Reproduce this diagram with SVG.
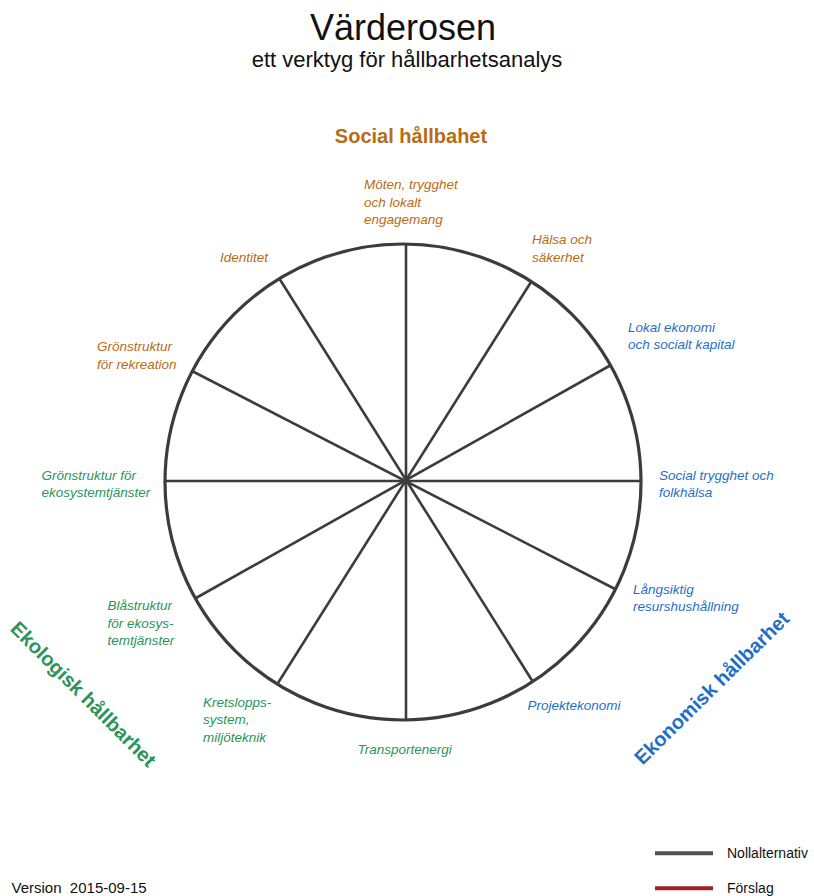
<svg xmlns="http://www.w3.org/2000/svg" width="814" height="896" viewBox="0 0 814 896">
<style>
text{font-family:"Liberation Sans",Arial,sans-serif}
.title{font-size:36px;fill:#111}
.sub{font-size:22px;fill:#111}
.head{font-size:20px;font-weight:bold}
.lab{font-size:13.5px;font-style:italic}
.soc{fill:#b86c16}
.eko{fill:#1f6fc6}
.eco{fill:#2a945a}
.spoke{stroke:#3c3c3f;stroke-width:2.6;fill:none}
.ring{stroke:#3c3c3f;stroke-width:3.2;fill:none}
.leg{font-size:14px;fill:#111}
</style>
<rect width="814" height="896" fill="#fff"/>
<g id="title">
<text class="title" x="403" y="40" text-anchor="middle">Värderosen</text>
<text class="sub" x="407" y="67" text-anchor="middle">ett verktyg för hållbarhetsanalys</text>
</g>
<g id="headings">
<text class="head soc" x="411" y="143" text-anchor="middle">Social hållbahet</text>
<text class="head eco" transform="translate(78.5,699) rotate(45)" text-anchor="middle">Ekologisk hållbarhet</text>
<text class="head eko" transform="translate(716.5,693) rotate(-44.5)" text-anchor="middle">Ekonomisk hållbarhet</text>
</g>
<g id="rose">
<circle class="ring" cx="403" cy="482" r="238"/>
</g>
<g id="connectors">
<line class="spoke" x1="406" y1="244" x2="406" y2="720"/>
<line class="spoke" x1="165" y1="481" x2="641" y2="481"/>
<line class="spoke" x1="531" y1="282" x2="278" y2="683"/>
<line class="spoke" x1="611" y1="365" x2="196" y2="598"/>
<line class="spoke" x1="279" y1="278" x2="533" y2="682"/>
<line class="spoke" x1="192" y1="371" x2="615" y2="589"/>
</g>
<g id="label-moten"><text class="lab soc" x="364" y="189">Möten, trygghet<tspan x="364" y="206.5">och lokalt</tspan><tspan x="364" y="224">engagemang</tspan></text></g>
<g id="label-halsa"><text class="lab soc" x="532" y="244">Hälsa och<tspan x="532" y="261.5">säkerhet</tspan></text></g>
<g id="label-lokal"><text class="lab eko" x="628" y="331.5">Lokal ekonomi<tspan x="628" y="349">och socialt kapital</tspan></text></g>
<g id="label-social"><text class="lab eko" x="659" y="479.5">Social trygghet och<tspan x="659" y="497">folkhälsa</tspan></text></g>
<g id="label-langsiktig"><text class="lab eko" x="633" y="593.5">Långsiktig<tspan x="633" y="611">resurshushållning</tspan></text></g>
<g id="label-projekt"><text class="lab eko" x="527.5" y="710">Projektekonomi</text></g>
<g id="label-transport"><text class="lab eco" x="357.5" y="754">Transportenergi</text></g>
<g id="label-krets"><text class="lab eco" x="203" y="706.5">Kretslopps-<tspan x="203" y="724">system,</tspan><tspan x="203" y="741.5">miljöteknik</tspan></text></g>
<g id="label-bla"><text class="lab eco" x="107.5" y="610">Blåstruktur<tspan x="107.5" y="627.5">för ekosys-</tspan><tspan x="107.5" y="645">temtjänster</tspan></text></g>
<g id="label-gron-eko"><text class="lab eco" x="41.5" y="479.5">Grönstruktur för<tspan x="41.5" y="497">ekosystemtjänster</tspan></text></g>
<g id="label-gron-rek"><text class="lab soc" x="97" y="351">Grönstruktur<tspan x="97" y="368.5">för rekreation</tspan></text></g>
<g id="label-identitet"><text class="lab soc" x="220" y="262">Identitet</text></g>
<g id="legend">
<line x1="655" y1="853.3" x2="713" y2="853.3" stroke="#505052" stroke-width="4"/>
<text class="leg" x="727" y="858">Nollalternativ</text>
<line x1="655" y1="888.3" x2="713" y2="888.3" stroke="#a3202a" stroke-width="4"/>
<text class="leg" x="727" y="892.5">Förslag</text>
</g>
<g id="version"><text class="leg" x="11.5" y="893" style="font-size:15px;white-space:pre" xml:space="preserve">Version  2015-09-15</text></g>
</svg>
